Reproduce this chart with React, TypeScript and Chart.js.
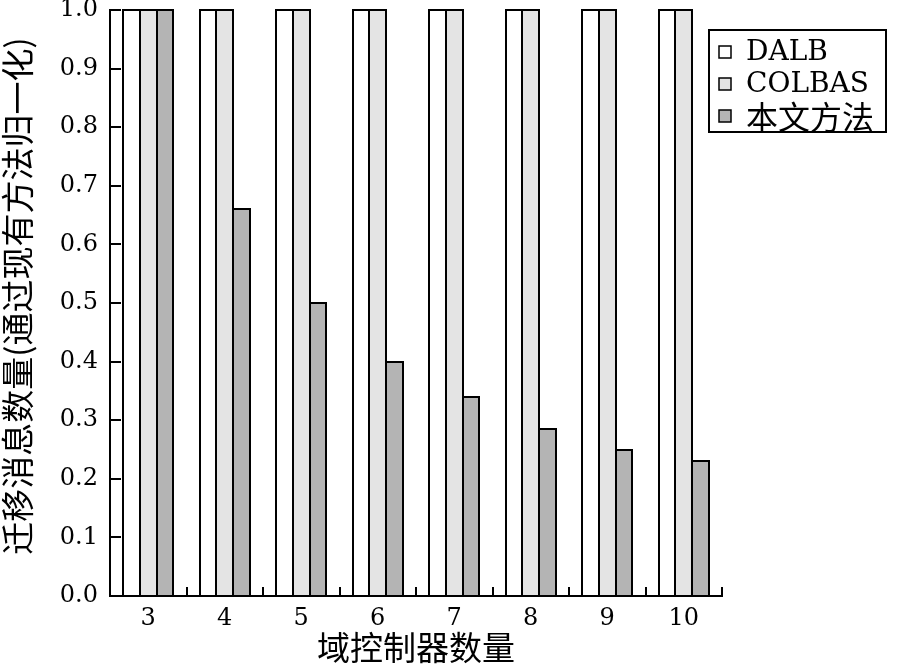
import React, { useEffect, useRef } from "react";
import { Chart, registerables } from "chart.js";

Chart.register(...registerables);

const categories = ["3", "4", "5", "6", "7", "8", "9", "10"];
const seriesNames = ["DALB", "COLBAS", "本文方法"];
const dalb = [1, 1, 1, 1, 1, 1, 1, 1];
const colbas = [1, 1, 1, 1, 1, 1, 1, 1];
const ours = [1.0, 0.661, 0.5, 0.4, 0.34, 0.285, 0.25, 0.23];
const colors = ["#ffffff", "#e4e4e4", "#b4b4b4"];
const yTitle = "迁移消息数量(通过现有方法归一化)";
const xTitle = "域控制器数量";

const SERIF = "'DejaVu Serif', serif";
const CJK = "'Noto Sans CJK SC', sans-serif";

const decor = {
  id: "decor",
  beforeDatasetsDraw(chart: any) {
    const { ctx, chartArea, scales } = chart;
    ctx.save();
    ctx.strokeStyle = "#000";
    ctx.lineWidth = 2;
    const ys = scales.y;
    ys.ticks.forEach((t: any) => {
      const py = Math.round(ys.getPixelForValue(t.value));
      ctx.beginPath();
      ctx.moveTo(chartArea.left, py);
      ctx.lineTo(chartArea.left + 11, py);
      ctx.stroke();
    });
    const n = categories.length;
    const w = (chartArea.right - chartArea.left) / n;
    for (let i = 1; i <= n; i++) {
      const px = Math.round(chartArea.left + i * w);
      ctx.beginPath();
      ctx.moveTo(px, chartArea.bottom);
      ctx.lineTo(px, chartArea.bottom - 9);
      ctx.stroke();
    }
    ctx.restore();
  },
  afterDatasetsDraw(chart: any) {
    const { ctx } = chart;
    ctx.save();
    ctx.strokeStyle = "#000";
    ctx.lineWidth = 2;
    chart.data.datasets.forEach((_: any, di: number) => {
      const meta = chart.getDatasetMeta(di);
      meta.data.forEach((el: any) => {
        const { x, y, base, width } = el.getProps(["x", "y", "base", "width"], true);
        const l = Math.round(x - width / 2);
        const r = Math.round(x + width / 2);
        const t = Math.round(y);
        const b = Math.round(base);
        ctx.strokeRect(l, t, r - l, b - t);
      });
    });
    ctx.restore();
  },
  afterDraw(chart: any) {
    const { ctx, chartArea } = chart;
    ctx.save();
    ctx.translate(17, (chartArea.top + chartArea.bottom) / 2 - 7);
    ctx.rotate(-Math.PI / 2);
    ctx.fillStyle = "#000";
    ctx.font = `33px ${CJK}`;
    ctx.textAlign = "center";
    ctx.textBaseline = "middle";
    ctx.fillText(yTitle, 0, 0);
    ctx.restore();

    ctx.save();
    const bx = 709, by = 30, bw = 177, bh = 102;
    ctx.fillStyle = "#fff";
    ctx.fillRect(bx, by, bw, bh);
    ctx.strokeStyle = "#000";
    ctx.lineWidth = 2;
    ctx.strokeRect(bx, by, bw, bh);
    const rows = [52, 84, 116];
    seriesNames.forEach((name, i) => {
      const cy = rows[i];
      ctx.fillStyle = colors[i];
      ctx.fillRect(719, cy - 6, 12, 12);
      ctx.lineWidth = 1.5;
      ctx.strokeRect(719, cy - 6, 12, 12);
      ctx.fillStyle = "#000";
      ctx.textBaseline = "middle";
      ctx.textAlign = "left";
      ctx.font = i === 2 ? `32px ${CJK}` : `28px ${SERIF}`;
      ctx.fillText(name, 746, cy + 1);
    });
    ctx.restore();
  },
};

export default function App() {
  const ref = useRef<HTMLCanvasElement>(null);
  useEffect(() => {
    document.body.style.margin = "0";
    const canvas = ref.current!;
    const chart = new Chart(canvas, {
      type: "bar",
      data: {
        labels: categories,
        datasets: [dalb, colbas, ours].map((d, i) => ({
          label: seriesNames[i],
          data: d,
          backgroundColor: colors[i],
          borderWidth: 0,
          categoryPercentage: 0.66,
          barPercentage: 1,
        })),
      },
      options: {
        responsive: false,
        animation: false,
        devicePixelRatio: 1,
        layout: { autoPadding: false, padding: { left: 0, right: 175, top: 10, bottom: 0 } },
        plugins: {
          legend: { display: false },
          tooltip: { enabled: false },
        },
        scales: {
          x: {
            offset: true,
            grid: { display: false, drawTicks: false },
            border: { display: true, color: "#000", width: 2 },
            ticks: {
              color: "#000",
              font: { family: SERIF, size: 24 },
              padding: 8,
              maxRotation: 0,
            },
            title: {
              display: true,
              text: xTitle,
              color: "#000",
              font: { family: CJK, size: 33, lineHeight: 1 },
              padding: { top: 0, bottom: 2 },
            },
            afterFit(scale: any) {
              scale.height = 70;
              scale.paddingLeft = 0;
              scale.paddingRight = 0;
              scale.paddingTop = 0;
              scale.paddingBottom = 0;
            },
          },
          y: {
            min: 0,
            max: 1,
            grid: { display: false, drawTicks: false },
            border: { display: true, color: "#000", width: 2 },
            ticks: {
              stepSize: 0.1,
              color: "#000",
              font: { family: SERIF, size: 24 },
              padding: 12,
              callback: (v: any) => Number(v).toFixed(1),
            },
            title: { display: false },
            afterFit(scale: any) {
              scale.width = 110;
              scale.paddingLeft = 0;
              scale.paddingRight = 0;
              scale.paddingTop = 0;
              scale.paddingBottom = 0;
            },
          },
        },
      },
      plugins: [decor],
    });
    return () => chart.destroy();
  }, []);
  return (
    <canvas
      ref={ref}
      width={897}
      height={666}
      style={{ display: "block", width: 897, height: 666 }}
    />
  );
}
